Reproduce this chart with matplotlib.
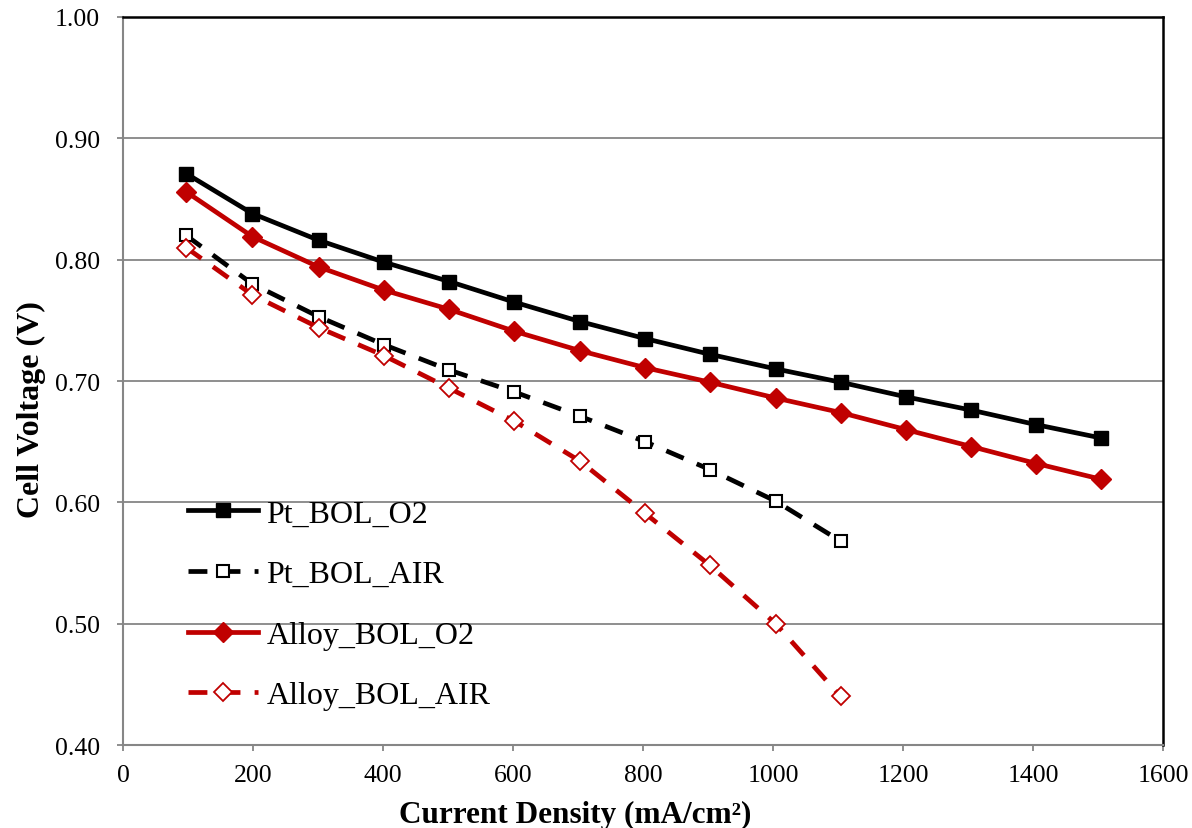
import matplotlib.pyplot as plt

# Polarization data
current = [97, 199, 301, 401, 502, 602, 703, 803, 903, 1004, 1104, 1204, 1305, 1405, 1505]
pt_bol_o2 = [0.871, 0.838, 0.816, 0.798, 0.782, 0.765, 0.749, 0.735, 0.722, 0.710,
             0.699, 0.687, 0.676, 0.664, 0.653]
alloy_bol_o2 = [0.856, 0.819, 0.794, 0.775, 0.759, 0.741, 0.725, 0.711, 0.699, 0.686,
                0.674, 0.660, 0.646, 0.632, 0.619]
current_air = current[:11]
pt_bol_air = [0.820, 0.780, 0.753, 0.730, 0.709, 0.691, 0.671, 0.650, 0.627, 0.601, 0.568]
alloy_bol_air = [0.810, 0.771, 0.744, 0.721, 0.694, 0.667, 0.634, 0.591, 0.548, 0.500, 0.440]

x_ticks = list(range(0, 1601, 200))
y_ticks = [0.40, 0.50, 0.60, 0.70, 0.80, 0.90, 1.00]

red = '#C00000'
grey = '#868686'

plt.rcParams['font.family'] = ['Liberation Serif', 'DejaVu Serif']

fig = plt.figure(figsize=(11.92, 8.29), dpi=100)
ax = fig.add_axes([0.1032, 0.1001, 0.8725, 0.8782])

ax.plot(current, pt_bol_o2, color='black', lw=3.4, marker='s', ms=10,
        label='Pt_BOL_O2', zorder=4)
ax.plot(current_air, pt_bol_air, color='black', lw=3.4, ls=(0, (4, 3)), marker='s', ms=9,
        mfc='white', mec='black', mew=1.5, label='Pt_BOL_AIR', zorder=3)
ax.plot(current, alloy_bol_o2, color=red, lw=3.4, marker='D', ms=10,
        label='Alloy_BOL_O2', zorder=4)
ax.plot(current_air, alloy_bol_air, color=red, lw=3.4, ls=(0, (4, 3)), marker='D', ms=9,
        mfc='white', mec=red, mew=1.3, label='Alloy_BOL_AIR', zorder=3)

ax.set_xlim(0, 1600)
ax.set_ylim(0.40, 1.00)
ax.set_xticks(x_ticks)
ax.set_yticks(y_ticks)
ax.set_yticklabels([f'{v:.2f}' for v in y_ticks])
ax.grid(axis='y', color=grey, lw=1.3)
ax.set_axisbelow(True)

for side in ['left', 'bottom']:
    ax.spines[side].set_color(grey)
    ax.spines[side].set_linewidth(1.5)
for side in ['top', 'right']:
    ax.spines[side].set_color('black')
    ax.spines[side].set_linewidth(1.8)

ax.tick_params(axis='both', labelsize=18.5, color=grey, width=1.3, length=4.5, direction='out')
ax.tick_params(axis='y', pad=12)
ax.tick_params(axis='x', pad=9)

ax.set_xlabel('Current Density (mA/cm²)', fontsize=22.5, fontweight='bold')
ax.set_ylabel('Cell Voltage (V)', fontsize=23, fontweight='bold')
ax.xaxis.set_label_coords(0.435, -0.075)
ax.yaxis.set_label_coords(-0.074, 0.4615)

ax.legend(loc='lower left', bbox_to_anchor=(0.035, 0.008), frameon=False, fontsize=23,
          handlelength=2.2, handletextpad=0.25, labelspacing=0.98)

plt.savefig('out.png', dpi=100)
